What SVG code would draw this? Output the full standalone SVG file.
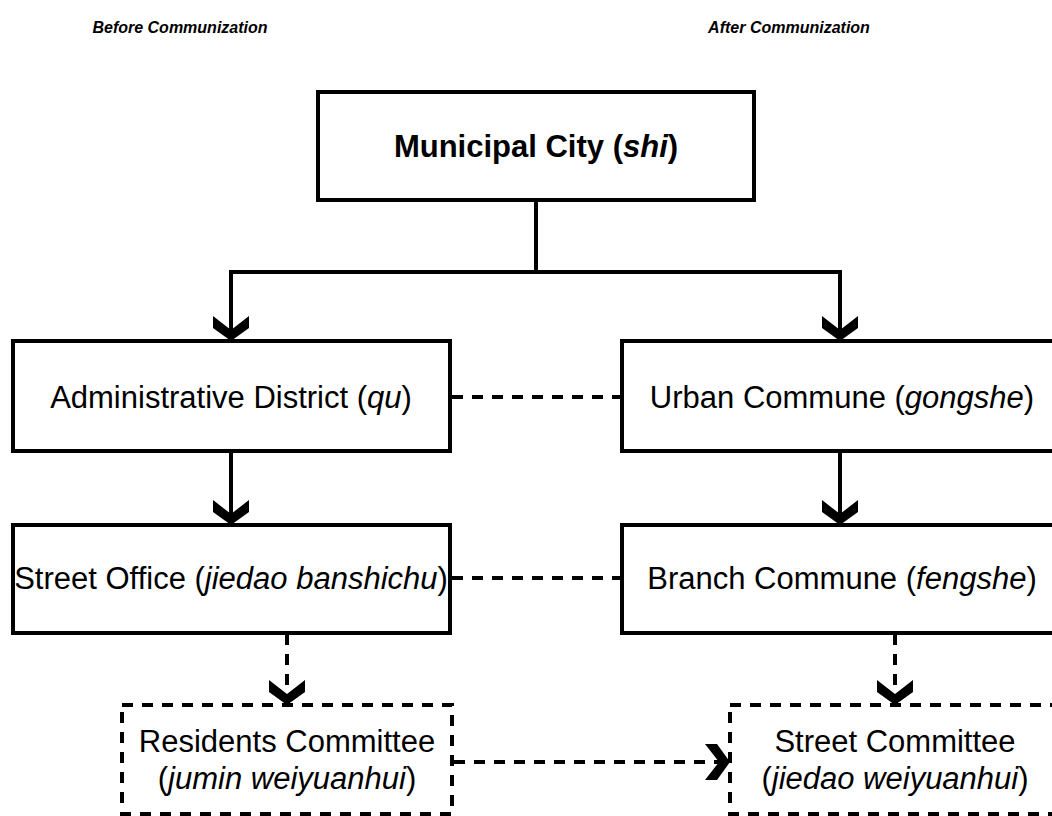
<svg xmlns="http://www.w3.org/2000/svg" xmlns:xlink="http://www.w3.org/1999/xlink" width="1052" height="816" viewBox="0 0 1052 816">
<style>
.box{fill:#fff;stroke:#000;stroke-width:4}
.dbox{fill:#fff;stroke:#000;stroke-width:4;stroke-dasharray:11 9}
.ln{fill:none;stroke:#000;stroke-width:4}
.dl{fill:none;stroke:#000;stroke-width:4;stroke-dasharray:11 9}
.t{font-family:"Liberation Sans",Arial,sans-serif;font-size:31px;fill:#000;text-anchor:middle}
.b{font-weight:bold}
.h{font-family:"Liberation Sans",Arial,sans-serif;font-size:16px;font-weight:bold;font-style:italic;fill:#000;text-anchor:middle}
</style>
<defs>
<path id="ah" d="M0,0 L-18,-13 L-18,-25 L0,-11 L18,-25 L18,-13 Z" fill="#000"/>
</defs>
<rect width="1052" height="816" fill="#fff"/>
<text class="h" x="180" y="33">Before Communization</text>
<text class="h" x="789" y="33">After Communization</text>
<g id="connectors">
<path class="ln" d="M536,200 V272 M231,272 H840 M231,270 V338 M840,270 V338"/>
<use xlink:href="#ah" transform="translate(231,341)"/>
<use xlink:href="#ah" transform="translate(840,341)"/>
<path class="ln" d="M231,451 V522 M840,451 V522"/>
<use xlink:href="#ah" transform="translate(231,525)"/>
<use xlink:href="#ah" transform="translate(840,525)"/>
<path class="dl" d="M452,397 H620 M452,578 H620"/>
<path class="dl" d="M287,634 V700 M895,634 V700"/>
<use xlink:href="#ah" transform="translate(287,705)"/>
<use xlink:href="#ah" transform="translate(895,705)"/>
<path class="dl" d="M454,762 H724"/>
<use xlink:href="#ah" transform="translate(730,762) rotate(-90)"/>
</g>
<g id="n-city">
<rect class="box" x="318" y="92" width="436" height="108"/>
<text class="t b" x="536" y="157">Municipal City (<tspan font-style="italic">shi</tspan>)</text>
</g>
<g id="n-district">
<rect class="box" x="13" y="341" width="437" height="110"/>
<text class="t" x="231" y="408">Administrative District (<tspan font-style="italic">qu</tspan>)</text>
</g>
<g id="n-commune">
<rect class="box" x="622" y="341" width="437" height="110"/>
<text class="t" x="842" y="408">Urban Commune (<tspan font-style="italic">gongshe</tspan>)</text>
</g>
<g id="n-street-office">
<rect class="box" x="13" y="525" width="437" height="108"/>
<text class="t" x="231" y="589">Street Office (<tspan font-style="italic">jiedao banshichu</tspan>)</text>
</g>
<g id="n-branch">
<rect class="box" x="622" y="525" width="437" height="108"/>
<text class="t" x="842" y="589">Branch Commune (<tspan font-style="italic">fengshe</tspan>)</text>
</g>
<g id="n-residents">
<rect class="dbox" x="122" y="705" width="330" height="109"/>
<text class="t" x="287" y="752">Residents Committee</text>
<text class="t" x="287" y="789">(<tspan font-style="italic">jumin weiyuanhui</tspan>)</text>
</g>
<g id="n-street-committee">
<rect class="dbox" x="730" y="705" width="330" height="109"/>
<text class="t" x="895" y="752">Street Committee</text>
<text class="t" x="895" y="789">(<tspan font-style="italic">jiedao weiyuanhui</tspan>)</text>
</g>
</svg>
